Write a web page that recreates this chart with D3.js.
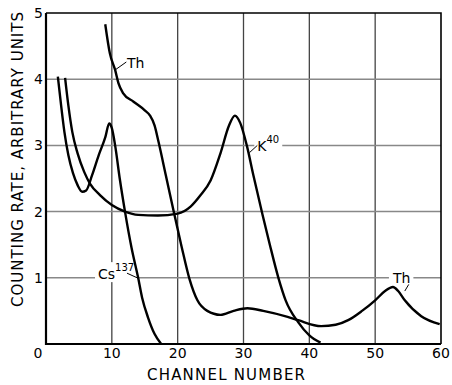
<!DOCTYPE html>
<meta charset="utf-8">
<title>Counting rate vs channel number</title>
<style>
  body { margin: 0; background: #fff; }
  text { font-family: "DejaVu Sans", sans-serif; fill: #000; }
</style>
<body>
<script src="https://cdn.jsdelivr.net/npm/d3@7"></script>
<script>

var width = 452,
    height = 385;

// channel number, counting rate
var cs137 = [[1.8,4.04],[2.3,3.6],[2.8,3.2],[3.4,2.85],[4.1,2.58],[4.8,2.4],[5.5,2.3],[6.1,2.32],[7,2.55],[8,2.85],[9,3.12],[9.6,3.33],[10.0,3.26],[10.5,3.0],[11.2,2.5],[12,2.0],[13,1.45],[14,1.0],[14.6,0.7],[15.5,0.4],[16.5,0.15],[17.5,0]];

var k40 = [[2.9,4.02],[3.4,3.6],[4.0,3.2],[4.8,2.88],[5.8,2.6],[6.7,2.42],[8.2,2.25],[10,2.1],[12,2.0],[14,1.95],[17,1.94],[20,1.97],[22,2.08],[23.4,2.24],[25,2.47],[26.5,2.88],[27.8,3.3],[28.7,3.45],[29.5,3.34],[30.5,3.0],[31.5,2.55],[32.9,1.95],[34,1.5],[35.3,1.0],[36.4,0.66],[38.3,0.33],[40,0.13],[41.7,0.02]];

var th = [[9.0,4.83],[9.7,4.39],[10.5,4.14],[11.0,3.94],[11.7,3.79],[13.3,3.66],[15.0,3.53],[15.8,3.45],[16.5,3.3],[17.1,3.05],[18.2,2.55],[19.4,2.0],[20.6,1.47],[21.8,0.98],[23,0.66],[24.5,0.5],[26.5,0.44],[28.5,0.5],[30.6,0.54],[33,0.5],[36.7,0.41],[38.3,0.36],[41.8,0.27],[44,0.29],[45.9,0.36],[48,0.5],[50,0.66],[51.5,0.8],[52.7,0.86],[53.5,0.8],[54.5,0.66],[57,0.42],[59.8,0.30]];

var xTicks = [0, 10, 20, 30, 40, 50, 60],
    yTicks = [1, 2, 3, 4, 5];

// curve labels: text start, sup text, leader from / to (data units)
var labels = [
  {name: "Th", sup: "", x: 12.3, y: 4.17, from: [10.5, 4.14], to: [12.2, 4.26]},
  {name: "K", sup: "40", x: 32.1, y: 2.92, from: [30.9, 2.89], to: [32.1, 3.0]},
  {name: "Cs", sup: "137", x: 7.9, y: 0.98, from: [12.3, 1.07], to: [13.85, 1.0]},
  {name: "Th", sup: "", x: 52.7, y: 0.92, from: [54.5, 0.8], to: [55.1, 0.9]}
];

var x = d3.scaleLinear().domain([0, 60]).range([46, 441]);
var y = d3.scaleLinear().domain([0, 5]).range([344, 13]);

var svg = d3.select("body").append("svg")
    .attr("width", width)
    .attr("height", height);

// grid
svg.append("g").selectAll("line")
    .data([10, 20, 30, 40, 50])
  .enter().append("line")
    .attr("x1", function(d) { return x(d); })
    .attr("x2", function(d) { return x(d); })
    .attr("y1", y(0))
    .attr("y2", y(5))
    .attr("stroke", "#444")
    .attr("stroke-width", 1.3);

svg.append("g").selectAll("line")
    .data([1, 2, 3, 4])
  .enter().append("line")
    .attr("x1", x(0))
    .attr("x2", x(60))
    .attr("y1", function(d) { return y(d); })
    .attr("y2", function(d) { return y(d); })
    .attr("stroke", "#888")
    .attr("stroke-width", 1.5);

// frame
svg.append("path")
    .attr("d", "M" + x(0) + "," + y(5) + "H" + x(60) + "V" + y(0))
    .attr("fill", "none")
    .attr("stroke", "#000")
    .attr("stroke-width", 1.6);
svg.append("path")
    .attr("d", "M" + x(0) + "," + y(5) + "V" + y(0) + "H" + x(60))
    .attr("fill", "none")
    .attr("stroke", "#000")
    .attr("stroke-width", 2.2);

// label backgrounds knock out the grid
var lab = svg.append("g").selectAll("g")
    .data(labels)
  .enter().append("g");

var tx = lab.append("text")
    .attr("x", function(d) { return x(d.x); })
    .attr("y", function(d) { return y(d.y); })
    .style("font-size", "14px");
tx.append("tspan").text(function(d) { return d.name; });
tx.append("tspan")
    .attr("dy", -8)
    .style("font-size", "10px")
    .text(function(d) { return d.sup; });

lab.each(function() {
  var t = d3.select(this).select("text"),
      b = t.node().getBBox();
  d3.select(this).insert("rect", "text")
      .attr("x", b.x - 3)
      .attr("y", b.y)
      .attr("width", b.width + 6)
      .attr("height", b.height)
      .attr("fill", "#fff");
});

lab.append("line")
    .attr("x1", function(d) { return x(d.from[0]); })
    .attr("y1", function(d) { return y(d.from[1]); })
    .attr("x2", function(d) { return x(d.to[0]); })
    .attr("y2", function(d) { return y(d.to[1]); })
    .attr("stroke", "#000")
    .attr("stroke-width", 1);

// curves
var line = d3.line()
    .x(function(d) { return x(d[0]); })
    .y(function(d) { return y(d[1]); })
    .curve(d3.curveMonotoneX);

svg.append("g").selectAll("path")
    .data([cs137, k40, th])
  .enter().append("path")
    .attr("d", line)
    .attr("fill", "none")
    .attr("stroke", "#000")
    .attr("stroke-width", 2.4)
    .attr("stroke-linejoin", "round");

// tick labels
svg.append("g").selectAll("text")
    .data(xTicks)
  .enter().append("text")
    .attr("x", function(d) { return d == 0 ? x(d) - 8 : x(d); })
    .attr("y", y(0) + 14)
    .attr("text-anchor", "middle")
    .style("font-size", "14px")
    .text(function(d) { return d; });

svg.append("g").selectAll("text")
    .data(yTicks)
  .enter().append("text")
    .attr("x", x(0) - 3)
    .attr("y", function(d) { return y(d) + 5; })
    .attr("text-anchor", "end")
    .style("font-size", "14px")
    .text(function(d) { return d; });

// axis titles
svg.append("text")
    .attr("x", 147)
    .attr("y", 380)
    .attr("textLength", 158)
    .attr("lengthAdjust", "spacing")
    .style("font-size", "15px")
    .text("CHANNEL NUMBER");

svg.append("text")
    .attr("transform", "translate(23,307) rotate(-90)")
    .attr("textLength", 295)
    .attr("lengthAdjust", "spacing")
    .style("font-size", "15px")
    .text("COUNTING RATE, ARBITRARY UNITS");

</script>
